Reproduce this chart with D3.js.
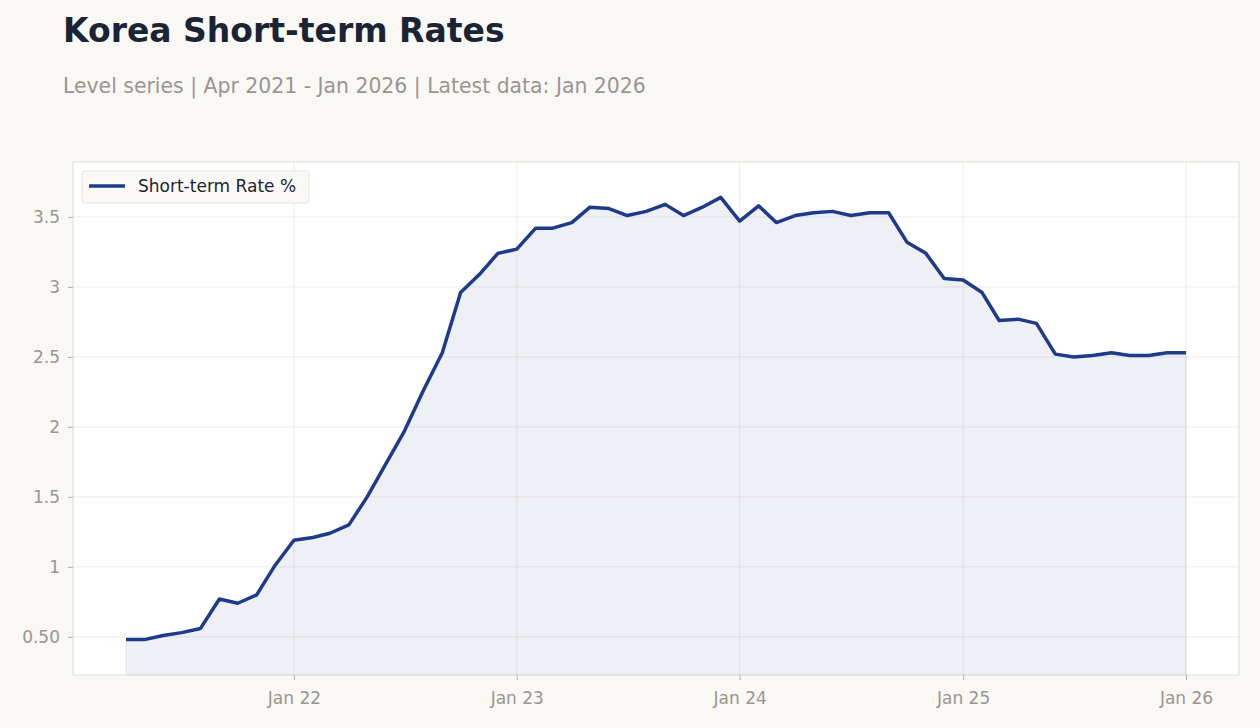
<!DOCTYPE html>
<html>
<head>
<meta charset="utf-8">
<script src="https://cdn.jsdelivr.net/npm/d3@7"></script>
<style>
  body { margin: 0; background: #f9f8f5; font-family: "DejaVu Sans", sans-serif; }
  .tick text { fill: #999590; }
  .tick line { stroke: #b5b1ab; }
</style>
</head>
<body>
<script>
const width = 1260, height = 728;
const title = 'Korea Short-term Rates';
const subtitle = 'Level series | Apr 2021 - Jan 2026 | Latest data: Jan 2026';
const seriesName = 'Short-term Rate %';

// monthly observations, Apr 2021 .. Jan 2026
const startMonth = [2021, 3];
const rates = [
  0.48, 0.48, 0.51, 0.53, 0.56, 0.77, 0.74, 0.80, 1.01,
  1.19, 1.21, 1.24, 1.30, 1.50, 1.74, 1.97, 2.26, 2.53, 2.96, 3.09, 3.24,
  3.27, 3.42, 3.42, 3.46, 3.57, 3.56, 3.51, 3.54, 3.59, 3.51, 3.57, 3.64,
  3.47, 3.58, 3.46, 3.51, 3.53, 3.54, 3.51, 3.53, 3.53, 3.32, 3.24, 3.06,
  3.05, 2.96, 2.76, 2.77, 2.74, 2.52, 2.50, 2.51, 2.53, 2.51, 2.51, 2.53,
  2.53
];
const yTicks = [0.5, 1, 1.5, 2, 2.5, 3, 3.5];
const yTickLabels = ['0.50', '1', '1.5', '2', '2.5', '3', '3.5'];
const xTicks = ['2022-01', '2023-01', '2024-01', '2025-01', '2026-01'];
const xTickLabels = ['Jan 22', 'Jan 23', 'Jan 24', 'Jan 25', 'Jan 26'];

const data = rates.map((v, i) => ({ date: new Date(startMonth[0], startMonth[1] + i, 1), value: v }));

const margin = { top: 162, right: 21, bottom: 53, left: 73 };
const innerWidth = width - margin.left - margin.right;
const innerHeight = height - margin.top - margin.bottom;

const svg = d3.select('body').append('svg')
    .attr('width', width)
    .attr('height', height);

svg.append('text')
    .attr('x', 63).attr('y', 42)
    .style('font-size', '33px').style('font-weight', 'bold')
    .style('fill', '#1a2433')
    .text(title);
svg.append('text')
    .attr('x', 63).attr('y', 93)
    .style('font-size', '20.4px')
    .style('fill', '#999590')
    .text(subtitle);

// scales with padding like the original
const t0 = data[0].date.getTime(), t1 = data[data.length - 1].date.getTime();
const xPad = (t1 - t0) * 0.05;
const xScale = d3.scaleTime()
    .domain([new Date(t0 - xPad), new Date(t1 + xPad)])
    .range([0, innerWidth]);
const vMin = d3.min(rates), vMax = d3.max(rates);
const yPad = (vMax - vMin) * 0.08;
const yScale = d3.scaleLinear()
    .domain([vMin - yPad, vMax + yPad])
    .range([innerHeight, 0]);

const g = svg.append('g').attr('transform', `translate(${margin.left},${margin.top})`);

g.append('rect')
    .attr('width', innerWidth).attr('height', innerHeight)
    .attr('fill', '#fff');

const parseTick = d3.timeParse('%Y-%m');
const xTickDates = xTicks.map(parseTick);

// grid
g.append('g').selectAll('line').data(yTicks).enter().append('line')
    .attr('x1', 0).attr('x2', innerWidth)
    .attr('y1', d => yScale(d)).attr('y2', d => yScale(d))
    .attr('stroke', '#efedea');
g.append('g').selectAll('line').data(xTickDates).enter().append('line')
    .attr('y1', 0).attr('y2', innerHeight)
    .attr('x1', d => xScale(d)).attr('x2', d => xScale(d))
    .attr('stroke', '#efedea');

const area = d3.area()
    .x(d => xScale(d.date))
    .y0(innerHeight)
    .y1(d => yScale(d.value));
g.append('path')
    .datum(data)
    .attr('d', area)
    .attr('fill', 'rgba(30,58,138,0.075)')
    .attr('stroke', 'rgba(30,58,138,0.1)')
    .attr('stroke-width', 1);

const line = d3.line()
    .x(d => xScale(d.date))
    .y(d => yScale(d.value));
g.append('path')
    .datum(data)
    .attr('d', line)
    .attr('fill', 'none')
    .attr('stroke', '#1e3a8a')
    .attr('stroke-width', 3.5)
    .attr('stroke-linejoin', 'round');

// frame
g.append('rect')
    .attr('width', innerWidth).attr('height', innerHeight)
    .attr('fill', 'none')
    .attr('stroke', '#dedbd6');

// axes
const yAxis = g.append('g')
    .call(d3.axisLeft(yScale).tickValues(yTicks).tickSize(5).tickPadding(8)
        .tickFormat((d, i) => yTickLabels[i]))
    .attr('font-family', 'DejaVu Sans').attr('font-size', 17);
yAxis.select('.domain').remove();

const xAxis = g.append('g')
    .attr('transform', `translate(0,${innerHeight})`)
    .call(d3.axisBottom(xScale).tickValues(xTickDates).tickSize(5).tickPadding(12)
        .tickFormat((d, i) => xTickLabels[i]))
    .attr('font-family', 'DejaVu Sans').attr('font-size', 17);
xAxis.select('.domain').remove();

// legend
const lg = g.append('g').attr('transform', 'translate(9,9)');
lg.append('rect')
    .attr('width', 227).attr('height', 32).attr('rx', 3)
    .attr('fill', '#f9f8f5').attr('fill-opacity', 0.9)
    .attr('stroke', '#e5e2dd');
lg.append('line')
    .attr('x1', 7).attr('x2', 43).attr('y1', 15).attr('y2', 15)
    .attr('stroke', '#1e3a8a').attr('stroke-width', 3.5);
lg.append('text')
    .attr('x', 56).attr('y', 21)
    .style('font-size', '17px').style('fill', '#1a2433')
    .text(seriesName);
</script>
</body>
</html>
